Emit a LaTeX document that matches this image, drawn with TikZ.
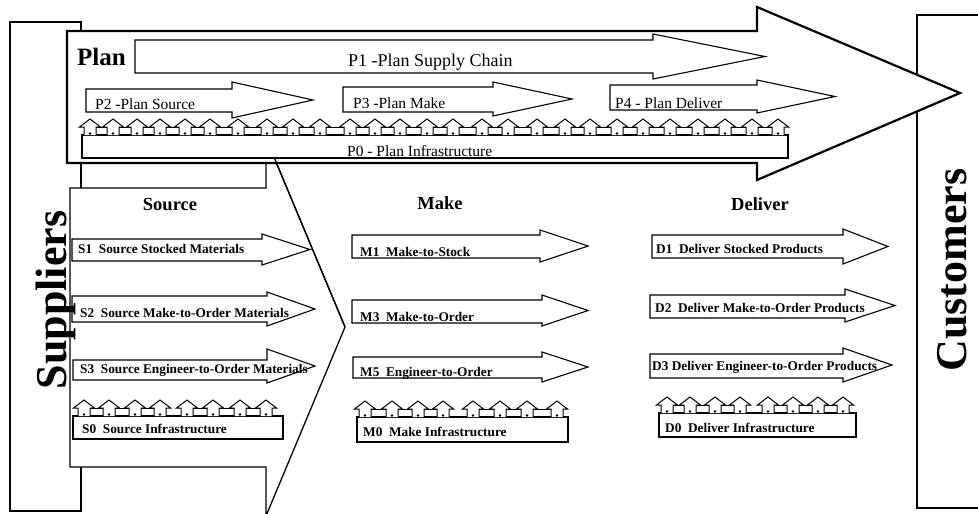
\documentclass[tikz,border=0pt]{standalone}
\usepackage{fontspec}
\setmainfont{Liberation Serif}

\tikzset{
  procarrow/.style={draw, fill=white, line width=1.1pt, line join=miter},
  bigarrow/.style={draw, fill=white, line width=2.2pt, line join=miter},
  infrabox/.style={draw, fill=white, line width=1.1pt},
  lbl/.style={anchor=base west, inner sep=0pt, font=\fontsize{15.5}{17}\selectfont},
  blbl/.style={anchor=base west, inner sep=0pt, font=\fontsize{13.3}{15}\selectfont\bfseries},
  colhead/.style={anchor=base, inner sep=0pt, font=\fontsize{18.5}{20}\selectfont\bfseries},
  party/.style={anchor=base, inner sep=0pt, rotate=90, font=\fontsize{44}{46}\selectfont\bfseries}
}

% block arrow: left, head x, tip x, body top, body bottom, head top, head bottom
\newcommand{\barrow}[7]{%
  \draw[procarrow] (#1,#4) -- (#2,#4) -- (#2,#6) -- (#3,{(#6+#7)/2}) -- (#2,#7) -- (#2,#5) -- (#1,#5) -- cycle;}
% small upward arrow standing on an infrastructure bar
\newcommand{\house}[2]{%
  \filldraw[fill=white, line width=1pt] ({#1-6},#2) -- ({#1-6},{#2-8}) -- ({#1-10.5},{#2-8}) -- (#1,{#2-16})
    -- ({#1+10.5},{#2-8}) -- ({#1+6},{#2-8}) -- ({#1+6},#2);
  \fill (#1,{#2-1.5}) circle[radius=1.4pt];}

\begin{document}
\begin{tikzpicture}[x=1pt, y=-1pt]
  \useasboundingbox (0,0) rectangle (978,514);
  \draw[line width=1.1pt] (10,22) rectangle (81,511);
  \draw[line width=1.1pt] (990,15) -- (917,15) -- (917,508) -- (990,508);
  % source block sits behind the plan block
  \draw[bigarrow, line width=1.3pt] (70,188) -- (266,188) -- (266,138) -- (345,327) -- (266,516) -- (266,467) -- (70,467) -- cycle;
  \draw[bigarrow] (67,31) -- (757,31) -- (757,7) -- (960,93) -- (757,180) -- (757,163) -- (67,163) -- cycle;
  \draw[line width=1.3pt] (266,138) -- (345,327);

  % plan
  \barrow{135}{653}{765}{40}{73}{34}{79}
  \barrow{86}{232}{313}{89}{112}{82}{118}
  \barrow{343}{493}{572}{87}{112}{82}{116}
  \barrow{610}{757}{835}{85}{110}{80}{113}
  \draw[infrabox] (82,135) rectangle (788,158);
  \draw[line width=0.9pt] (90,127) -- (778,127);
  \foreach \hx in {90,113,137,160,185,210,238,267,293,320,350,375,400,427,453,482,508,537,565,590,617,643,670,698,725,752,778}
    {\house{\hx}{135}}
  \node[anchor=base west, inner sep=0pt, font=\fontsize{25}{27}\selectfont\bfseries] (plan) at (77,65) {Plan};
  \node[lbl, font=\fontsize{18}{20}\selectfont] (p1) at (348,66) {P1 -Plan Supply Chain};
  \node[lbl] (p2) at (95,109) {P2 -Plan Source};
  \node[lbl] (p3) at (353,108) {P3 -Plan Make};
  \node[lbl] (p4) at (615,108) {P4 - Plan Deliver};
  \node[lbl] (p0) at (347,156) {P0 - Plan Infrastructure};

  % source
  \node[colhead] (src) at (170,210) {Source};
  \barrow{72}{262}{310}{239}{261}{234}{265}
  \barrow{72}{267}{315}{296}{322}{292}{326}
  \barrow{73}{267}{315}{360}{380}{349}{383}
  \draw[infrabox] (73,416) rectangle (283,439);
  \draw[line width=0.9pt] (84,408) -- (160,408) (187,408) -- (266,408);
  \foreach \hx in {84,109,135,160,187,213,240,266} {\house{\hx}{416}}
  \node[blbl] (s1) at (78,253) {S1~~Source Stocked Materials};
  \node[blbl] (s2) at (80,317) {S2~~Source Make-to-Order Materials};
  \node[blbl] (s3) at (80,373) {S3~~Source Engineer-to-Order Materials};
  \node[blbl] (s0) at (82,433) {S0~~Source Infrastructure};

  % make
  \node[colhead] (mk) at (440,209) {Make};
  \barrow{352}{540}{588}{235}{258}{230}{262}
  \barrow{352}{542}{588}{300}{323}{295}{326}
  \barrow{353}{542}{588}{357}{378}{352}{382}
  \draw[infrabox] (357,417) rectangle (568,442);
  \draw[line width=0.9pt] (365,409) -- (443,409) (473,409) -- (557,409);
  \foreach \hx in {365,392,418,443,473,500,527,557} {\house{\hx}{417}}
  \node[blbl] (m1) at (360,256) {M1~~Make-to-Stock};
  \node[blbl] (m3) at (360,321) {M3~~Make-to-Order};
  \node[blbl] (m5) at (360,376) {M5~~Engineer-to-Order};
  \node[blbl] (m0) at (363,436) {M0~~Make Infrastructure};

  % deliver
  \node[colhead] (dlv) at (760,210) {Deliver};
  \barrow{652}{843}{888}{235}{258}{229}{264}
  \barrow{650}{845}{895}{295}{318}{289}{322}
  \barrow{650}{843}{892}{354}{378}{348}{382}
  \draw[infrabox] (659,413) rectangle (856,437);
  \draw[line width=0.9pt] (667,405) -- (740,405) (768,405) -- (843,405);
  \foreach \hx in {667,690,715,740,768,793,818,843} {\house{\hx}{413}}
  \node[blbl] (d1) at (656,253) {D1~~Deliver Stocked Products};
  \node[blbl] (d2) at (655,312) {D2~~Deliver Make-to-Order Products};
  \node[blbl] (d3) at (652,370) {D3 Deliver Engineer-to-Order Products};
  \node[blbl] (d0) at (665,432) {D0~~Deliver Infrastructure};

  \node[party] (sup) at (66,300) {Suppliers};
  \node[party] (cust) at (966,270) {Customers};
\end{tikzpicture}
\end{document}
